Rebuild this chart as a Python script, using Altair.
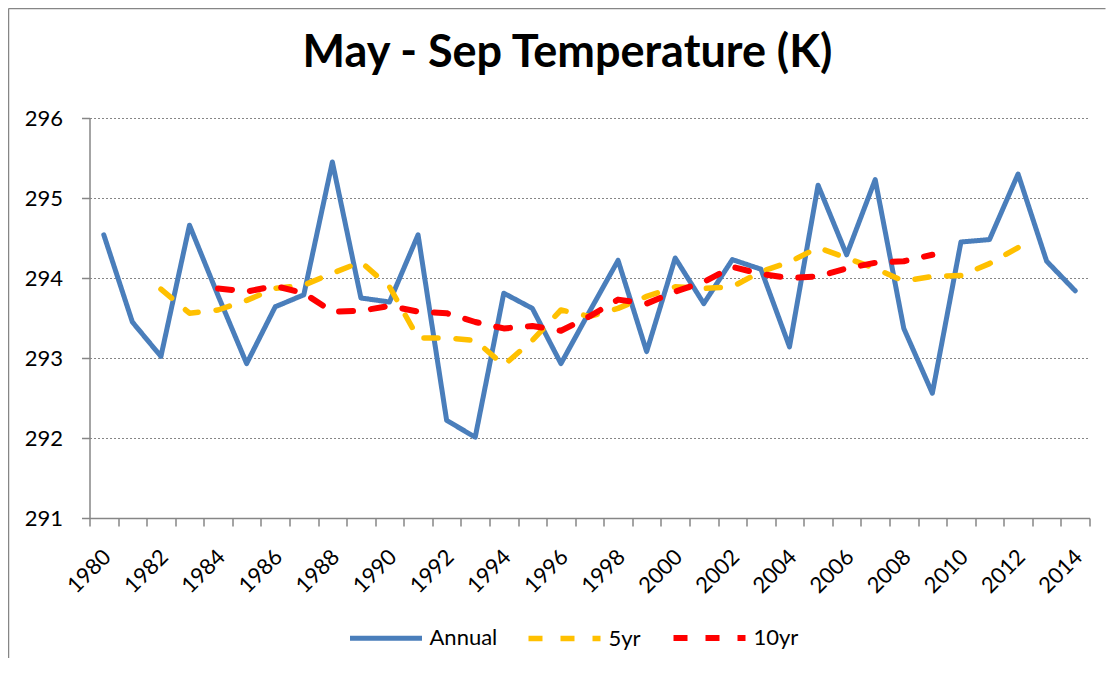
import altair as alt
import pandas as pd

years = list(range(1980, 2015))
annual = [294.54, 293.45, 293.02, 294.66, 293.78, 292.93, 293.64, 293.79, 295.45, 293.75,
          293.70, 294.54, 292.22, 292.01, 293.81, 293.62, 292.93, 293.58, 294.22, 293.08,
          294.25, 293.68, 294.23, 294.11, 293.14, 295.16, 294.29, 295.23, 293.37, 292.56,
          294.45, 294.48, 295.30, 294.21, 293.84]

years_5yr = list(range(1982, 2013))
ma5 = [293.86, 293.56, 293.60, 293.72, 293.87, 293.91, 294.06, 294.20, 293.89, 293.25,
       293.25, 293.22, 292.91, 293.22, 293.60, 293.52, 293.62, 293.77, 293.89, 293.87,
       293.89, 294.08, 294.20, 294.38, 294.25, 294.12, 293.96, 294.02, 294.03, 294.18,
       294.38]

years_10yr = list(range(1984, 2010))
ma10 = [293.87, 293.83, 293.90, 293.81, 293.58, 293.59, 293.65, 293.58, 293.56, 293.45,
        293.37, 293.40, 293.34, 293.52, 293.73, 293.68, 293.83, 293.95, 294.14, 294.05,
        294.00, 294.02, 294.12, 294.19, 294.21, 294.29]

series_names = ["Annual", "5yr", "10yr"]
series_colors = ["#4A7EBB", "#FFC000", "#FF0000"]

df = pd.concat([
    pd.DataFrame({"year": years, "temp": annual, "series": "Annual", "order": 0}),
    pd.DataFrame({"year": years_5yr, "temp": ma5, "series": "5yr", "order": 1}),
    pd.DataFrame({"year": years_10yr, "temp": ma10, "series": "10yr", "order": 2}),
], ignore_index=True)

axis_values = [1979.5 + 0.5 * i for i in range(71)]

x_axis = alt.Axis(
    values=axis_values,
    labelExpr="datum.value % 2 === 0 ? format(datum.value, 'd') : ''",
    labelAngle=-45,
    labelFontSize=22,
    labelFont="Lato",
    labelColor="black",
    labelOverlap=False,
    labelFlush=False,
    labelBound=False,
    labelPadding=20,
    labelOffset=-4,
    tickSize=8,
    tickColor="#868686",
    tickWidth=1.5,
    tickOpacity={"condition": {"test": "datum.value % 1 !== 0", "value": 1}, "value": 0},
    domainColor="#868686",
    domainWidth=1.5,
    grid=False,
    title=None,
)

y_axis = alt.Axis(
    values=[291, 292, 293, 294, 295, 296],
    labelFontSize=22,
    labelFont="Lato",
    labelColor="black",
    labelPadding=19,
    tickSize=8,
    tickColor="#868686",
    tickWidth=1.5,
    domainColor="#868686",
    domainWidth=1.5,
    grid=True,
    gridColor="#868686",
    gridDash=[2, 2],
    gridWidth=1,
    title=None,
)

lines = alt.Chart(df).mark_line(strokeCap="round", strokeJoin="round").encode(
    x=alt.X("year:Q", scale=alt.Scale(domain=[1979.5, 2014.5], nice=False, zero=False), axis=x_axis),
    y=alt.Y("temp:Q", scale=alt.Scale(domain=[291, 296], nice=False, zero=False), axis=y_axis),
    color=alt.Color(
        "series:N",
        scale=alt.Scale(domain=series_names, range=series_colors),
        legend=alt.Legend(
            title=None,
            orient="none",
            legendX=258,
            legendY=481,
            direction="horizontal",
            symbolType="stroke",
            symbolSize=5184,
            symbolStrokeWidth=6,
            labelFontSize=22,
            labelFont="Lato",
            labelColor="black",
            labelOffset=5,
            columnPadding=20,
        ),
    ),
    strokeDash=alt.StrokeDash(
        "series:N",
        scale=alt.Scale(domain=series_names, range=[[1, 0], [14, 18], [14, 18]]),
        legend=None,
    ),
    strokeWidth=alt.StrokeWidth(
        "series:N",
        scale=alt.Scale(domain=series_names, range=[5, 6, 6]),
        legend=None,
    ),
    order="order:Q",
)

border_df = pd.DataFrame({"a": [0]})
border_left = alt.Chart(border_df).mark_rule(color="#868686", strokeWidth=1.5).encode(
    x=alt.value(-81), y=alt.value(-109.5), y2=alt.value(550)
)
border_top = alt.Chart(border_df).mark_rule(color="#868686", strokeWidth=1.5).encode(
    x=alt.value(-81), x2=alt.value(1016), y=alt.value(-109.5)
)

chart = alt.layer(lines, border_left, border_top).properties(
    width=1000,
    height=400,
    autosize=alt.AutoSizeParams(type="none"),
    padding={"left": 81.5, "top": 110, "right": 16, "bottom": 140},
    title=alt.TitleParams(
        text="May - Sep Temperature (K)",
        font="Lato",
        fontSize=45,
        fontWeight="bold",
        color="black",
        anchor="middle",
        frame="group",
        baseline="alphabetic",
        offset=-104,
        dx=-22,
    ),
).configure_view(stroke=None)

chart.save("out.html", embed_options={"renderer": "svg", "actions": False})
